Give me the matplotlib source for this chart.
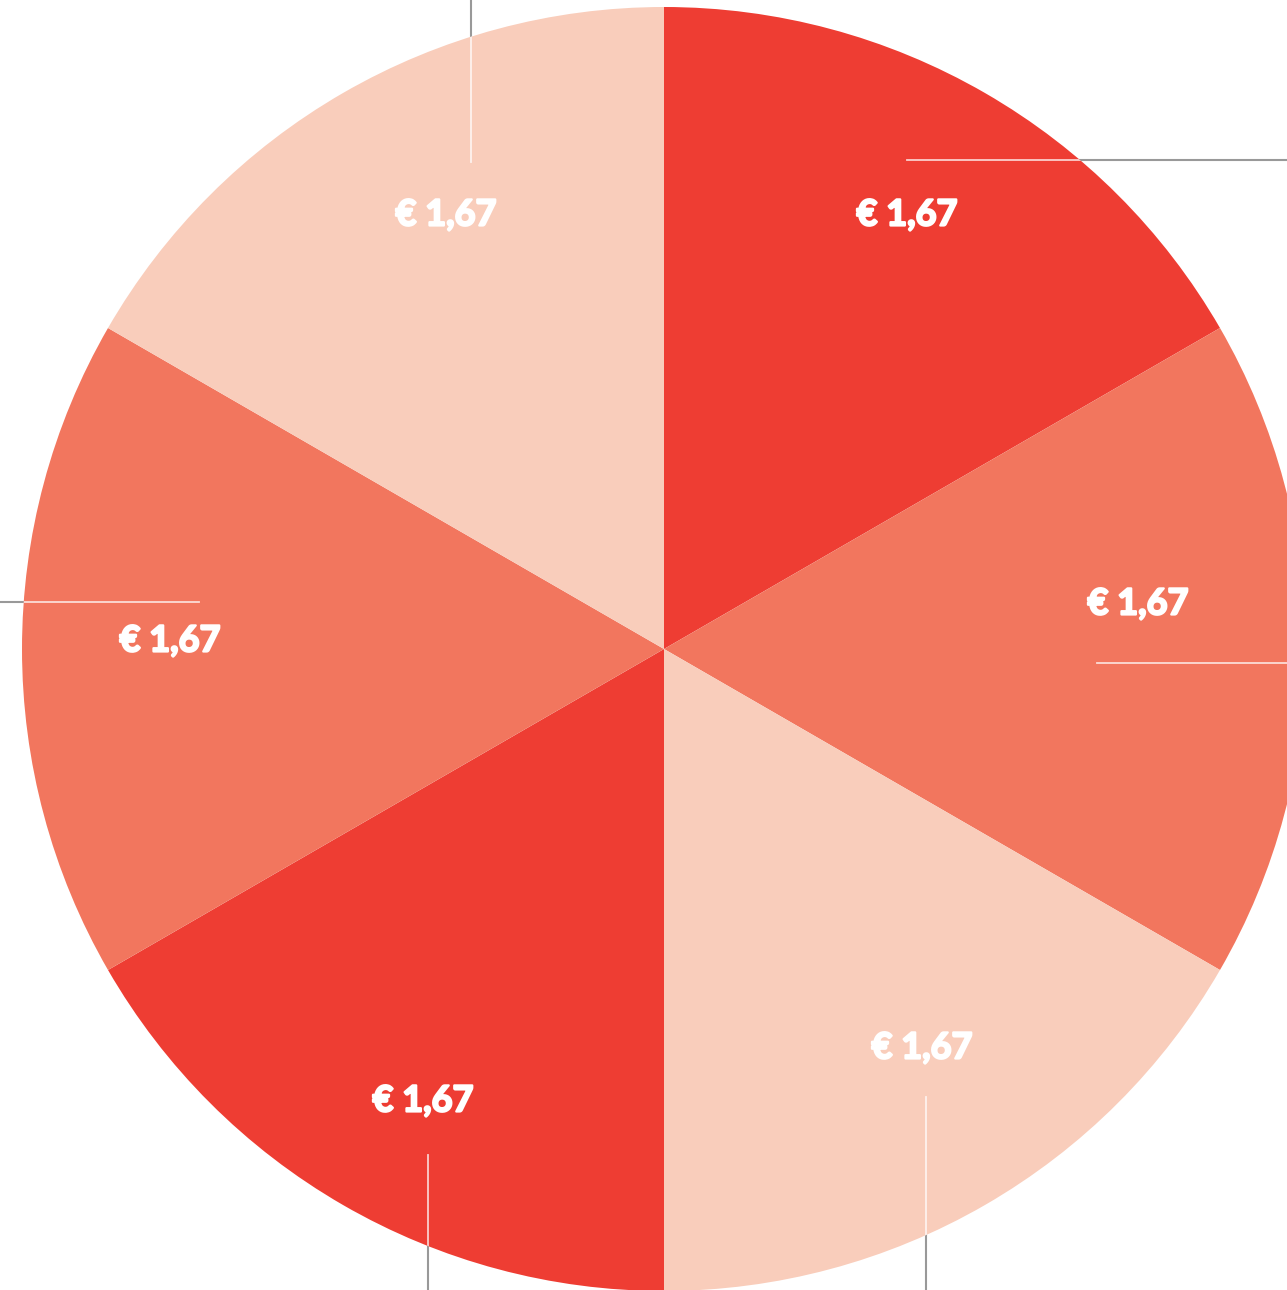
# Pie chart with six equal slices, white euro labels and leader lines
import matplotlib.pyplot as plt
import matplotlib.patheffects as pe
from matplotlib.patches import Circle

# data
values = [1.67, 1.67, 1.67, 1.67, 1.67, 1.67]
colors = ['#EE3D33', '#F2765E', '#F9CDBB', '#EE3D33', '#F2765E', '#F9CDBB']

W, H = 1287, 1290
cx, cy, r = 664, 649, 642

fig = plt.figure(figsize=(W / 100, H / 100), dpi=100)
ax = fig.add_axes([0, 0, 1, 1])

ax.pie(values, colors=colors, startangle=90, counterclock=False,
       center=(cx, H - cy), radius=r, frame=True,
       wedgeprops={'linewidth': 0})
ax.set_xlim(0, W)
ax.set_ylim(0, H)
ax.set_aspect('equal')
ax.axis('off')

# label positions (pixel coords, top-left origin)
label_pos = [(907, 215), (1138, 604), (922, 1048), (423, 1101), (170, 641), (446, 215)]
for (x, y), v in zip(label_pos, values):
    txt = "€ " + f"{v:.2f}".replace('.', ',')
    ax.text(x, H - y, txt, color='white', fontsize=26, fontweight='bold',
            family=['Lato', 'DejaVu Sans'], ha='center', va='center', zorder=5,
            path_effects=[pe.withStroke(linewidth=1.6, foreground='white')])

# leader lines
leaders = [((907, 160), (1287, 160)),
           ((1097, 663), (1287, 663)),
           ((926, 1097), (926, 1290)),
           ((428, 1155), (428, 1290)),
           ((0, 602), (199, 602)),
           ((471, 0), (471, 162))]
clip = Circle((cx, H - cy), r, transform=ax.transData)
for (x0, y0), (x1, y1) in leaders:
    ax.plot([x0, x1], [H - y0, H - y1], color='#999999', lw=1.5, zorder=0.5)
    ln, = ax.plot([x0, x1], [H - y0, H - y1], color='white', lw=1.3, alpha=0.75, zorder=4)
    ln.set_clip_path(clip)

# gray part should sit under the pie
for w in ax.patches:
    w.set_zorder(1)

fig.savefig('out.png', dpi=100)
